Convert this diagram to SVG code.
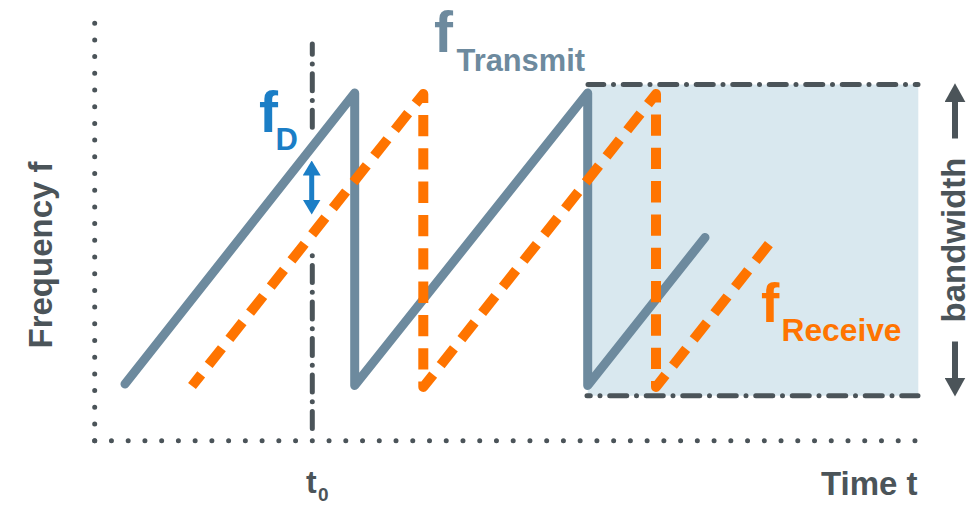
<svg xmlns="http://www.w3.org/2000/svg" width="977" height="505" viewBox="0 0 977 505">
<style>
  .lbl{font-family:"Liberation Sans",Arial,Helvetica,sans-serif;font-weight:bold}
  .dark{fill:#4b5459}
  .dots{fill:none;stroke:#4b5459;stroke-width:5;stroke-linecap:round;stroke-dasharray:0 16.7}
  .dashdot{fill:none;stroke:#4b5459;stroke-width:5;stroke-linecap:round;stroke-dasharray:0 9.75 17 9.75}
  .tx{fill:none;stroke:#6d8a9e;stroke-width:9;stroke-linecap:round;stroke-linejoin:round}
  .rx{fill:none;stroke:#ff7400;stroke-width:10;stroke-linejoin:round;stroke-dasharray:21.33 12;stroke-dashoffset:6.5}
</style>
<defs>
  <marker id="headBlue" markerUnits="userSpaceOnUse" markerWidth="15" markerHeight="18" viewBox="0 0 15 18" refX="0.5" refY="9" orient="auto-start-reverse">
    <path d="M0,0 L15,9 L0,18 Z" fill="#1b7ec6"/>
  </marker>
  <marker id="headDark" markerUnits="userSpaceOnUse" markerWidth="19" markerHeight="21" viewBox="0 0 19 21" refX="0.5" refY="10.5" orient="auto">
    <path d="M0,0 L19,10.5 L0,21 Z" fill="#4b5459"/>
  </marker>
</defs>

<g id="bandwidth-box">
  <rect x="587.7" y="84.5" width="330.6" height="311.2" fill="#d9e8ef"/>
  <path class="dashdot" d="M588 84.5 H918" style="stroke-dashoffset:11"/>
  <path class="dashdot" d="M587 395.7 H918" style="stroke-dashoffset:23.5"/>
</g>

<g id="axes">
  <path class="dots" d="M94.7 440.7 V23"/>
  <path class="dots" d="M94.7 440.7 H916" style="stroke-dasharray:0 16.74"/>
</g>

<g id="t0-marker">
  <path class="dashdot" d="M312.3 44 V128" style="stroke-dashoffset:16.5"/>
  <path class="dashdot" d="M312.3 255.7 V428.5"/>
</g>

<g id="connectors">
  <path id="transmit-line" class="tx" d="M125 384 L354.7 93 L354.7 385.5 L587.7 93 L587.7 385.5 L705 237.5"/>
  <path id="receive-line" class="rx" d="M192 386 L423.3 94 L423.3 387 L656 94 L656 387 L773 239"/>
  <line id="fd-arrow" x1="311.7" y1="175" x2="311.7" y2="200" stroke="#1b7ec6" stroke-width="5" marker-start="url(#headBlue)" marker-end="url(#headBlue)"/>
  <line id="bw-up" x1="955" y1="138.5" x2="955" y2="101.7" stroke="#4b5459" stroke-width="6" marker-end="url(#headDark)"/>
  <line id="bw-down" x1="955" y1="341.5" x2="955" y2="378" stroke="#4b5459" stroke-width="6" marker-end="url(#headDark)"/>
</g>

<g id="label-fD" class="lbl" fill="#1b7ec6">
  <text x="259" y="131.7" font-size="57">f</text>
  <text x="275.5" y="150" font-size="31">D</text>
</g>

<g id="label-fTransmit" class="lbl" fill="#6d8a9e">
  <text x="434" y="51.7" font-size="57">f</text>
  <text x="456.5" y="70.7" font-size="32" textLength="128.5" lengthAdjust="spacingAndGlyphs">Transmit</text>
</g>

<g id="label-fReceive" class="lbl" fill="#ff7400">
  <text x="761" y="321.7" font-size="55">f</text>
  <text x="781.5" y="340.7" font-size="32" textLength="120" lengthAdjust="spacingAndGlyphs">Receive</text>
</g>

<g id="label-frequency" class="lbl dark">
  <text transform="translate(51.7,255) rotate(-90)" text-anchor="middle" font-size="33">Frequency f</text>
</g>

<g id="label-time" class="lbl dark">
  <text x="917.5" y="495" text-anchor="end" font-size="33">Time t</text>
</g>

<g id="label-t0" class="lbl dark">
  <text x="306" y="493" font-size="32">t</text>
  <text x="318" y="500.5" font-size="19">0</text>
</g>

<g id="label-bandwidth" class="lbl dark">
  <text transform="translate(965,240) rotate(-90)" text-anchor="middle" font-size="33">bandwidth</text>
</g>
</svg>
